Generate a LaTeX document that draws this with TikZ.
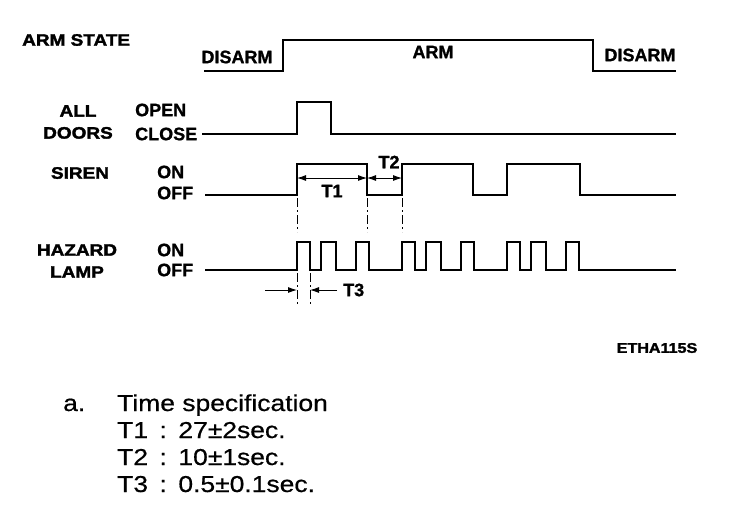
\documentclass[tikz,border=0pt]{standalone}
\usepackage{fontspec}
\setmainfont{Liberation Sans}
\newfontfamily\namefont{Liberation Sans Bold}[FakeStretch=1.15, FakeBold=2]
\newfontfamily\levelfont{Liberation Sans Bold}[FakeBold=1]
\newfontfamily\specfont{Liberation Sans}[FakeStretch=1.15, FakeBold=0.6]
\usetikzlibrary{arrows.meta}

\begin{document}
\begin{tikzpicture}[x=1pt, y=-1pt,
	every node/.style={inner sep=0pt},
	wave/.style={line width=2.2pt},
	dim/.style={line width=0.9pt, {Latex[length=9pt,width=6pt]}-{Latex[length=9pt,width=6pt]}},
	dimend/.style={line width=0.9pt, -{Latex[length=9pt,width=6pt]}},
	guide/.style={line width=0.8pt, dash pattern=on 9pt off 3pt on 2pt off 3pt},
	signame/.style={font=\namefont\fontsize{16.5}{22}\selectfont, align=center},
	level/.style={font=\levelfont\fontsize{18}{18}\selectfont, anchor=west},
	spec/.style={font=\specfont\fontsize{23}{23}\selectfont, anchor=base west}]
	\useasboundingbox (0,0) rectangle (736,528);
	\node[signame, anchor=west] (armstate) at (22,40) {ARM STATE};
	\node[signame] (doors) at (78,122) {ALL\\DOORS};
	\node[signame] (siren) at (80,173) {SIREN};
	\node[signame] (hazard) at (77,261) {HAZARD\\LAMP};
	\node[level, anchor=center] (disarm1) at (237,57) {DISARM};
	\node[level, anchor=center] (arm) at (433,52) {ARM};
	\node[level, anchor=center] (disarm2) at (640,55) {DISARM};
	\node[level] (open) at (135,110) {OPEN};
	\node[level] (close) at (135,134) {CLOSE};
	\node[level] (sirenon) at (157,172) {ON};
	\node[level] (sirenoff) at (157,193) {OFF};
	\node[level] (lampon) at (157,250) {ON};
	\node[level] (lampoff) at (157,270) {OFF};
	\draw[wave] (204,71) -- (283,71) -- (283,40) -- (593,40) -- (593,71) -- (676,71);
	\draw[wave] (202,134) -- (297,134) -- (297,102) -- (331,102) -- (331,134) -- (676,134);
	\draw[wave] (205,195) -- (297,195) |- (367,164) |- (402,195) |- (473,164) |- (507,195) |- (580,164) |- (676,195);
	\draw[wave] (205,270) foreach \a in {297,402,507} {
		-- (\a,270) |- (\a+13,242) |- (\a+24,270) |- (\a+39,242) |- (\a+59,270) |- (\a+72,242) -- (\a+72,270)
	} -- (676,270);
	\coordinate (t1a) at (297,178);
	\coordinate (t1b) at (367,178);
	\coordinate (t2b) at (402,178);
	\draw[dim] (t1a) -- (t1b);
	\draw[dim] (t1b) -- (t2b);
	\node[level, anchor=center] (t1) at (332,191) {T1};
	\node[level, anchor=center] (t2) at (389,162) {T2};
	\draw[guide] (297,198) -- (297,232);
	\draw[guide] (367,198) -- (367,232);
	\draw[guide] (402,198) -- (402,232);
	\coordinate (t3l) at (265,290);
	\coordinate (t3a) at (297,290);
	\coordinate (t3b) at (310,290);
	\coordinate (t3r) at (337,290);
	\draw[dimend] (t3l) -- (t3a);
	\draw[dimend] (t3r) -- (t3b);
	\draw[guide] (297,273) -- (297,306);
	\draw[guide] (310,273) -- (310,306);
	\node[level] (t3) at (343,290) {T3};
	\node[font=\namefont\fontsize{14}{14}\selectfont] (code) at (657,348) {ETHA115S};
	\node[spec] (item) at (63,411) {a.};
	\node[spec] (title) at (117,411) {Time specification};
	\node[spec] (spec1) at (117,438) {T1\hspace{0.5em}:\hspace{0.5em}27±2sec.};
	\node[spec] (spec2) at (117,465) {T2\hspace{0.5em}:\hspace{0.5em}10±1sec.};
	\node[spec] (spec3) at (117,492) {T3\hspace{0.5em}:\hspace{0.5em}0.5±0.1sec.};
\end{tikzpicture}
\end{document}
